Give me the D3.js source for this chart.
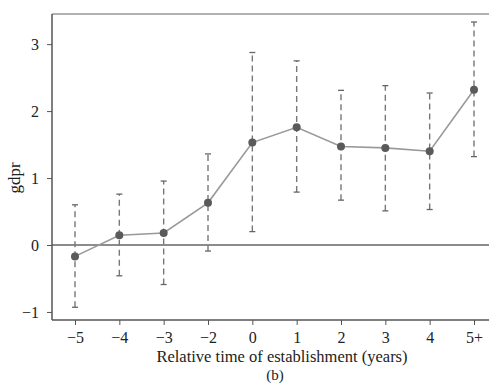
<!DOCTYPE html>
<html><head><meta charset="utf-8">
<script src="https://cdn.jsdelivr.net/npm/d3@7"></script>
<style>body{margin:0;background:#fff}svg{display:block}text{font-family:"Liberation Serif","Times New Roman",serif;fill:#222}</style>
</head><body><svg id="c" width="489" height="384"></svg>
<script>
const categories = ["-5","-4","-3","-2","0","1","2","3","4","5+"];
const tickLabels = ["\u22125","\u22124","\u22123","\u22122","0","1","2","3","4","5+"];
const estimates = [-0.17,0.145,0.18,0.63,1.53,1.757,1.47,1.45,1.40,2.32];
const ciLow = [-0.93,-0.46,-0.59,-0.09,0.20,0.79,0.67,0.51,0.53,1.32];
const ciHigh = [0.60,0.76,0.955,1.36,2.875,2.75,2.31,2.38,2.27,3.33];
const yTicks = [-1,0,1,2,3];

const svg = d3.select("#c");
const L=52, T=14, R=489, B=320;
const x = d3.scalePoint().domain(categories).range([75,474]);
const y = d3.scaleLinear().domain([-1.12,3.45]).range([B,T]);

svg.append("line").attr("x1",L).attr("x2",R).attr("y1",T).attr("y2",T).attr("stroke","#999").attr("stroke-width",1.5);
svg.append("line").attr("x1",L).attr("x2",R).attr("y1",y(0)).attr("y2",y(0)).attr("stroke","#666").attr("stroke-width",1.5);

const yAx = svg.append("g").attr("transform",`translate(${L},0)`)
  .call(d3.axisLeft(y).tickValues(yTicks).tickSize(5).tickPadding(8).tickFormat(d=>d<0?"\u2212"+(-d):d));
const xAx = svg.append("g").attr("transform",`translate(0,${B})`)
  .call(d3.axisBottom(x).tickSize(5).tickPadding(7).tickFormat((d,i)=>tickLabels[i]));
[yAx,xAx].forEach(g=>{
  g.attr("font-family",null);
  g.select(".domain").remove();
  g.selectAll(".tick line").attr("stroke","#555");
  g.selectAll(".tick text").attr("font-size",16).style("font-family","'Liberation Serif', serif").attr("fill","#333");
});
svg.append("line").attr("x1",L).attr("x2",L).attr("y1",T).attr("y2",B).attr("stroke","#555").attr("stroke-width",1.5);
svg.append("line").attr("x1",L).attr("x2",R).attr("y1",B).attr("y2",B).attr("stroke","#555").attr("stroke-width",1.5);

const g = svg.append("g");
categories.forEach((c,i)=>{
  const cx = x(c);
  g.append("line").attr("x1",cx).attr("x2",cx).attr("y1",y(ciLow[i])).attr("y2",y(ciHigh[i]))
    .attr("stroke","#777").attr("stroke-width",1.4).attr("stroke-dasharray","6,4");
  [ciLow[i],ciHigh[i]].forEach(v=>{
    g.append("line").attr("x1",cx-3).attr("x2",cx+3).attr("y1",y(v)).attr("y2",y(v)).attr("stroke","#666").attr("stroke-width",1.3);
  });
});

const line = d3.line().x((d,i)=>x(categories[i])).y(d=>y(d));
svg.append("path").datum(estimates).attr("d",line).attr("fill","none").attr("stroke","#999").attr("stroke-width",1.6);
svg.selectAll("circle.p").data(estimates).enter().append("circle")
  .attr("cx",(d,i)=>x(categories[i])).attr("cy",d=>y(d)).attr("r",4).attr("fill","#5a5a5a");

svg.append("text").attr("x",282).attr("y",362).attr("text-anchor","middle").attr("font-size",16.5).text("Relative time of establishment (years)");
svg.append("text").attr("x",275).attr("y",380).attr("text-anchor","middle").attr("font-size",15).text("(b)");
svg.append("text").attr("transform","translate(20,178) rotate(-90)").attr("text-anchor","middle").attr("font-size",17).text("gdpr");
</script></body></html>
